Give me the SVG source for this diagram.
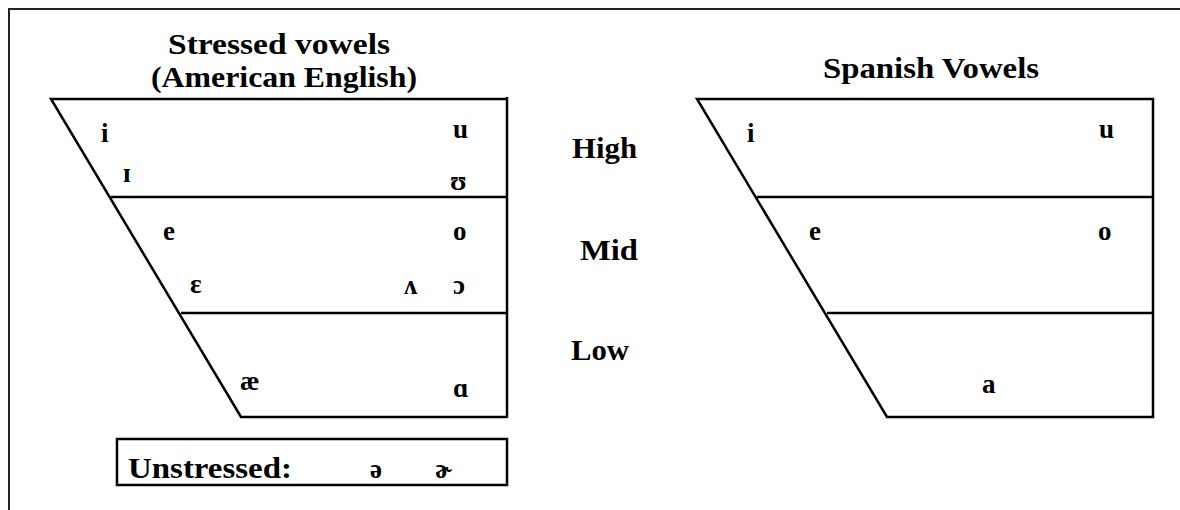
<svg xmlns="http://www.w3.org/2000/svg" width="1180" height="510" viewBox="0 0 1180 510">
<style>
.t{font-family:"Liberation Serif","DejaVu Serif",serif;font-weight:bold;fill:#000}
.big{font-size:30px}
.v{font-size:27px}
.ln{stroke:#000;stroke-width:2.5;fill:none}
.fr{stroke:#222;stroke-width:2;fill:none}
</style>
<rect x="0" y="0" width="1180" height="510" fill="#fff"/>
<path class="fr" d="M9,510 V9 H1180"/>
<g id="english-chart">
<text class="t big" x="168" y="54" textLength="222" lengthAdjust="spacingAndGlyphs">Stressed vowels</text>
<text class="t big" x="151" y="87" textLength="266" lengthAdjust="spacingAndGlyphs">(American English)</text>
<path class="ln" d="M507,417 H241 L51,99 H507"/>
<line class="ln" x1="507" y1="97" x2="507" y2="418" stroke-width="4"/>
<line class="ln" x1="111" y1="197" x2="507" y2="197"/>
<line class="ln" x1="181" y1="313" x2="507" y2="313"/>
<text class="t v" x="101" y="142">i</text>
<text class="t v" x="453" y="138">u</text>
<text class="t v" x="123" y="182">ɪ</text>
<text class="t v" x="450" y="190">ʊ</text>
<text class="t v" x="163" y="240">e</text>
<text class="t v" x="453" y="240">o</text>
<text class="t v" x="190" y="293">ɛ</text>
<text class="t v" x="404" y="294">ʌ</text>
<text class="t v" x="453" y="294">ɔ</text>
<text class="t v" x="240" y="390">æ</text>
<text class="t v" x="453" y="397">ɑ</text>
</g>
<g id="unstressed">
<rect class="ln" x="117" y="439" width="390" height="46" stroke-width="4"/>
<text class="t big" x="128" y="478" textLength="164" lengthAdjust="spacingAndGlyphs">Unstressed:</text>
<text class="t v" x="370" y="478">ə</text>
<text class="t v" x="435" y="478">ɚ</text>
</g>
<g id="height-labels">
<text class="t big" x="572" y="158" textLength="65" lengthAdjust="spacingAndGlyphs">High</text>
<text class="t big" x="580" y="260" textLength="58" lengthAdjust="spacingAndGlyphs">Mid</text>
<text class="t big" x="571" y="360" textLength="58" lengthAdjust="spacingAndGlyphs">Low</text>
</g>
<g id="spanish-chart">
<text class="t big" x="823" y="78" textLength="216" lengthAdjust="spacingAndGlyphs">Spanish Vowels</text>
<path class="ln" d="M697,99 H1153 V417 H887 Z"/>
<line class="ln" x1="757" y1="197" x2="1153" y2="197"/>
<line class="ln" x1="827" y1="313" x2="1153" y2="313"/>
<text class="t v" x="747" y="142">i</text>
<text class="t v" x="1099" y="138">u</text>
<text class="t v" x="809" y="240">e</text>
<text class="t v" x="1098" y="240">o</text>
<text class="t v" x="982" y="393">a</text>
</g>
</svg>
